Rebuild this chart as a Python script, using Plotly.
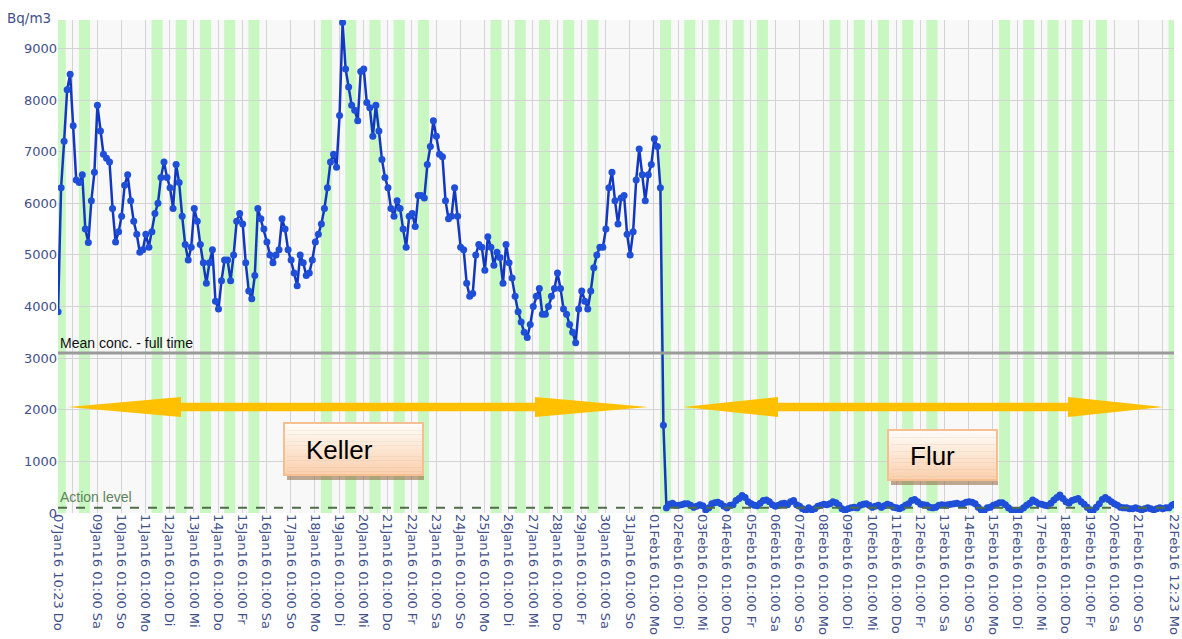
import pandas as pd
import plotly.graph_objects as go

START = "2016-01-07 10:23"
END = "2016-02-22 12:23"

# Radon concentration in Bq/m3, one reading every 3 hours starting at START.
# Basement (Keller): 07 Jan 10:23 .. 31 Jan 22:23
keller = [
    3900, 6300, 7200, 8200, 8500,                       # 07 Jan
    7500, 6450, 6400, 6550, 5500, 5240, 6050, 6600,     # 08 Jan
    7900, 7400, 6950, 6870, 6800, 5900, 5250, 5450,     # 09 Jan
    5750, 6350, 6550, 6050, 5650, 5400, 5050, 5100,     # 10 Jan
    5400, 5150, 5450, 5800, 6000, 6500, 6800, 6500,     # 11 Jan
    6300, 5900, 6750, 6400, 5750, 5200, 4900, 5150,     # 12 Jan
    5900, 5650, 5200, 4850, 4450, 4850, 5100, 4100,     # 13 Jan
    3950, 4500, 4900, 4900, 4500, 5000, 5650, 5800,     # 14 Jan
    5600, 4850, 4300, 4150, 4600, 5900, 5700, 5500,     # 15 Jan
    5250, 5000, 4850, 5000, 5100, 5700, 5500, 5100,     # 16 Jan
    4900, 4650, 4400, 5000, 4850, 4600, 4650, 4900,     # 17 Jan
    5250, 5400, 5600, 5900, 6300, 6800, 6950, 6700,     # 18 Jan
    7700, 9500, 8600, 8250, 7900, 7800, 7600, 8550,     # 19 Jan
    8600, 7950, 7850, 7300, 7900, 7400, 6850, 6500,     # 20 Jan
    6300, 5900, 5750, 6050, 5900, 5500, 5150, 5750,     # 21 Jan
    5800, 5550, 6150, 6150, 6100, 6750, 7100, 7600,     # 22 Jan
    7300, 6950, 6900, 6050, 5700, 5750, 6300, 5750,     # 23 Jan
    5150, 5100, 4450, 4200, 4250, 5000, 5200, 5150,     # 24 Jan
    4700, 5350, 5150, 4800, 5050, 4950, 4450, 5200,     # 25 Jan
    4850, 4550, 4200, 3900, 3700, 3500, 3400, 3650,     # 26 Jan
    4000, 4200, 4350, 3850, 3850, 4000, 4200, 4350,     # 27 Jan
    4650, 4350, 3950, 3850, 3650, 3500, 3300, 3950,     # 28 Jan
    4300, 4100, 3950, 4300, 4750, 5000, 5150, 5150,     # 29 Jan
    5500, 6300, 6600, 6050, 5600, 6100, 6150, 5400,     # 30 Jan
    5000, 5450, 6450, 7050, 6550, 6050, 6550, 6750,     # 31 Jan
]
# Sensor moved to the hallway (Flur) on 01 Feb: 01 Feb 01:23 .. 22 Feb 10:23
flur = [
    7250, 7100, 6300, 1700, 100, 170, 190, 150,        # 01 Feb
    150, 160, 180, 180, 150, 110, 130, 160,            # 02 Feb
    140, 60, 100, 180, 200, 210, 180, 130,             # 03 Feb
    100, 150, 160, 240, 280, 340, 300, 220,            # 04 Feb
    180, 150, 140, 190, 240, 250, 220, 160,            # 05 Feb
    130, 150, 180, 190, 160, 220, 240, 160,            # 06 Feb
    130, 80, 50, 100, 60, 80, 130, 150,                # 07 Feb
    170, 160, 180, 220, 200, 150, 80, 50,              # 08 Feb
    80, 100, 110, 100, 150, 170, 180, 150,             # 09 Feb
    110, 130, 150, 110, 140, 170, 150, 110,            # 10 Feb
    100, 80, 110, 150, 180, 240, 260, 220,             # 11 Feb
    170, 160, 150, 110, 100, 110, 150, 160,            # 12 Feb
    150, 160, 170, 180, 190, 170, 180, 210,            # 13 Feb
    220, 210, 180, 110, 60, 50, 100, 110,              # 14 Feb
    150, 170, 200, 200, 160, 100, 60, 50,              # 15 Feb
    50, 60, 100, 150, 190, 250, 220, 180,              # 16 Feb
    170, 150, 140, 190, 250, 300, 350, 280,            # 17 Feb
    220, 190, 240, 260, 280, 220, 170, 110,            # 18 Feb
    60, 50, 110, 180, 260, 300, 260, 220,              # 19 Feb
    180, 150, 110, 100, 100, 80, 80, 100,              # 20 Feb
    80, 60, 80, 100, 80, 60, 80, 100,                  # 21 Feb
    80, 100, 100, 150,                                 # 22 Feb
]
last_value = 170   # reading at END

MEAN_CONC = 3100      # mean concentration over the full period
ACTION_LEVEL = 100

# working days, shaded from 07:00 to 18:00
workdays = [
    "2016-01-07", "2016-01-08",
    "2016-01-11", "2016-01-12", "2016-01-13", "2016-01-14", "2016-01-15",
    "2016-01-18", "2016-01-19", "2016-01-20", "2016-01-21", "2016-01-22",
    "2016-01-25", "2016-01-26", "2016-01-27", "2016-01-28", "2016-01-29",
    "2016-02-01", "2016-02-02", "2016-02-03", "2016-02-04", "2016-02-05",
    "2016-02-08", "2016-02-09", "2016-02-10", "2016-02-11", "2016-02-12",
    "2016-02-15", "2016-02-16", "2016-02-17", "2016-02-18", "2016-02-19",
    "2016-02-22",
]
WORK_FROM, WORK_TO = "07:00", "18:00"

weekday_de = ["Mo", "Di", "Mi", "Do", "Fr", "Sa", "So"]
tick_dates = [pd.Timestamp(START)] + list(
    pd.date_range("2016-01-08 01:00", "2016-02-22 01:00", freq="D")
) + [pd.Timestamp(END)]
unlabelled = {pd.Timestamp("2016-01-08 01:00"), pd.Timestamp("2016-02-22 01:00")}
tick_text = [
    "" if t in unlabelled else t.strftime("%d%b%y %H:%M ") + weekday_de[t.weekday()]
    for t in tick_dates
]

values = keller + flur + [last_value]
times = list(pd.date_range(START, periods=len(keller) + len(flur), freq="3h")) + [pd.Timestamp(END)]

# small padding so the first/last tick labels stay inside the axis range
x_range = [pd.Timestamp(START) - pd.Timedelta(minutes=4), pd.Timestamp(END) + pd.Timedelta(minutes=4)]

# ---- figure geometry (pixels) used for the hand-drawn overlays ----
W, H = 1182, 639
ML, MR, MT, MB = 58, 8, 20, 126
PW, PH = W - ML - MR, H - MT - MB


def px(xp):
    return (xp - ML) / PW


def py(yp):
    return (H - MB - yp) / PH


LABEL_BLUE = "#42508a"
FONT = "Liberation Sans, Arial, sans-serif"
TICK_FONT = "DejaVu Sans, Verdana, sans-serif"

fig = go.Figure()

fig.add_trace(go.Scatter(
    x=times, y=values, mode="lines+markers",
    line=dict(color="#1238c0", width=2.5),
    marker=dict(color="#1f4fd8", size=7, line=dict(width=0)),
    hoverinfo="x+y",
))

shapes = []
t0, t1 = pd.Timestamp(START), pd.Timestamp(END)
for d in workdays:
    a = max(pd.Timestamp(f"{d} {WORK_FROM}"), t0)
    b = min(pd.Timestamp(f"{d} {WORK_TO}"), t1)
    shapes.append(dict(type="rect", xref="x", yref="paper", x0=a, x1=b, y0=0, y1=1,
                       fillcolor="#c8f7c2", line=dict(width=0), layer="below"))

# mean concentration and action level
shapes.append(dict(type="line", xref="paper", yref="y", x0=0, x1=1, y0=MEAN_CONC, y1=MEAN_CONC,
                   line=dict(color="#9a9a9a", width=3)))
shapes.append(dict(type="line", xref="paper", yref="y", x0=0, x1=1, y0=ACTION_LEVEL, y1=ACTION_LEVEL,
                   line=dict(color="#4f6e48", width=2, dash="dash")))


def double_arrow(x_left, x_right, y_mid, head_len, head_half, shaft_half):
    pts = [
        (x_left, y_mid),
        (x_left + head_len, y_mid - head_half),
        (x_left + head_len, y_mid - shaft_half),
        (x_right - head_len, y_mid - shaft_half),
        (x_right - head_len, y_mid - head_half),
        (x_right, y_mid),
        (x_right - head_len, y_mid + head_half),
        (x_right - head_len, y_mid + shaft_half),
        (x_left + head_len, y_mid + shaft_half),
        (x_left + head_len, y_mid + head_half),
    ]
    path = "M " + " L ".join(f"{px(a):.5f},{py(b):.5f}" for a, b in pts) + " Z"
    return dict(type="path", xref="paper", yref="paper", path=path,
                fillcolor="#ffc000", line=dict(width=0), layer="above")


shapes.append(double_arrow(68, 648, 407, 113, 10, 4.2))
shapes.append(double_arrow(683, 1163, 407, 95, 10, 4.2))


def label_box(x0, y0, x1, y1, steps=14):
    out = [dict(type="rect", xref="paper", yref="paper",
                x0=px(x0 + 3), x1=px(x1 + 1), y0=py(y1 + 5), y1=py(y0 + 5),
                fillcolor="rgba(140,100,60,0.55)", line=dict(width=0), layer="above")]
    top, bottom = (255, 253, 250), (251, 207, 172)
    h = (y1 - y0) / steps
    for i in range(steps):
        f = (i + 0.5) / steps
        c = tuple(round(top[k] + (bottom[k] - top[k]) * f) for k in range(3))
        out.append(dict(type="rect", xref="paper", yref="paper",
                        x0=px(x0), x1=px(x1), y0=py(y0 + (i + 1) * h + 0.3), y1=py(y0 + i * h),
                        fillcolor=f"rgb{c}", line=dict(width=0), layer="above"))
    out.append(dict(type="rect", xref="paper", yref="paper",
                    x0=px(x0), x1=px(x1), y0=py(y1), y1=py(y0),
                    fillcolor="rgba(0,0,0,0)", line=dict(color="#f5bf92", width=2), layer="above"))
    return out


shapes += label_box(284, 423, 423, 475)
shapes += label_box(888, 430, 997, 480)

annotations = [
    dict(text="Bq/m3", xref="paper", yref="paper", x=px(5), y=py(18), xanchor="left", yanchor="middle",
         showarrow=False, font=dict(family=TICK_FONT, size=13.5, color=LABEL_BLUE)),
    dict(text="Mean conc. - full time", xref="paper", yref="y", x=px(58), y=MEAN_CONC, xanchor="left",
         yanchor="bottom", yshift=0, showarrow=False, font=dict(family=FONT, size=14, color="#111111")),
    dict(text="Action level", xref="paper", yref="y", x=px(58), y=ACTION_LEVEL, xanchor="left",
         yanchor="bottom", yshift=1, showarrow=False, font=dict(family=FONT, size=14, color="#62845a")),
    dict(text="Keller", xref="paper", yref="paper", x=px(339), y=py(450), xanchor="center",
         yanchor="middle", showarrow=False, font=dict(family=FONT, size=26, color="#000000")),
    dict(text="Flur", xref="paper", yref="paper", x=px(932), y=py(456), xanchor="center",
         yanchor="middle", showarrow=False, font=dict(family=FONT, size=26, color="#000000")),
]

fig.update_layout(
    width=W, height=H,
    margin=dict(l=ML, r=MR, t=MT, b=MB, autoexpand=False),
    paper_bgcolor="white", plot_bgcolor="#f8f8f8",
    showlegend=False,
    font=dict(family=FONT, size=14, color=LABEL_BLUE),
    shapes=shapes, annotations=annotations,
)
fig.update_xaxes(
    type="date", range=x_range, automargin=False,
    tickmode="array", tickvals=tick_dates, ticktext=tick_text, tickangle=90,
    tickfont=dict(family=TICK_FONT, size=13, color=LABEL_BLUE),
    ticklabeloverflow="allow",
    showgrid=True, gridcolor="#d3d3d8", gridwidth=1,
    zeroline=False, showline=False, ticks="",
)
fig.update_yaxes(
    range=[0, 9550], tickmode="array", tickvals=list(range(0, 10000, 1000)), automargin=False,
    tickfont=dict(family=TICK_FONT, size=13, color=LABEL_BLUE),
    showgrid=True, gridcolor="#d3d3d3", gridwidth=1,
    zeroline=False, showline=False, ticks="",
)

fig.write_html("out.html")
